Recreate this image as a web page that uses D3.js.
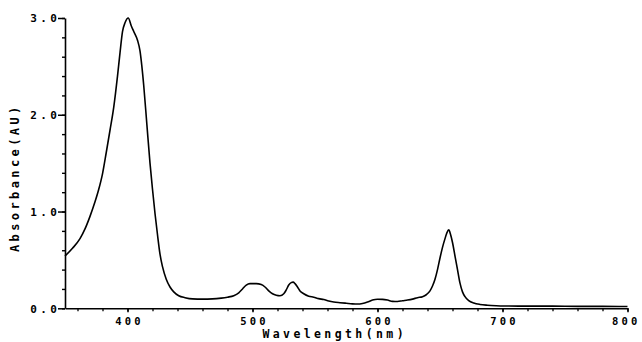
<!DOCTYPE html>
<html>
<head>
<meta charset="utf-8">
<script src="https://cdn.jsdelivr.net/npm/d3@7"></script>
<style>
  html, body { margin: 0; padding: 0; background: #fff; }
  svg { display: block; }
  text { font-family: "DejaVu Sans Mono", monospace; font-weight: bold; fill: #000; }
</style>
</head>
<body>
<svg id="chart" width="642" height="342"></svg>
<script>
// Data
const wavelength = [350, 356, 362, 366, 370, 374, 377, 380, 383, 386, 389, 392, 394, 396, 398, 400.6, 403, 405, 408, 410, 411.5, 413, 415.5, 418, 420, 422, 424, 426, 428, 431, 434, 437, 441, 446, 452, 460, 468, 475, 480, 485, 489, 492, 495, 498, 503, 507, 510, 513, 516, 519, 522, 525, 527, 529, 531, 532.5, 534, 536, 538, 541, 545, 549, 553, 557, 561, 565, 570, 575, 580, 584, 588, 592, 596, 600, 604, 608, 612, 616, 620, 624, 628, 632, 636, 639, 642, 644, 646, 648, 650, 652, 654, 655.5, 657, 658.5, 660, 662, 664, 666, 668, 670, 673, 677, 682, 688, 695, 705, 720, 740, 760, 780, 800];
const absorbance = [0.54, 0.62, 0.72, 0.82, 0.95, 1.10, 1.23, 1.39, 1.61, 1.84, 2.08, 2.40, 2.64, 2.86, 2.95, 3.00, 2.92, 2.86, 2.77, 2.66, 2.50, 2.30, 1.90, 1.50, 1.23, 0.98, 0.76, 0.56, 0.43, 0.30, 0.22, 0.17, 0.13, 0.11, 0.097, 0.095, 0.097, 0.105, 0.115, 0.13, 0.16, 0.20, 0.24, 0.255, 0.255, 0.245, 0.22, 0.18, 0.15, 0.135, 0.13, 0.15, 0.19, 0.24, 0.265, 0.27, 0.255, 0.22, 0.18, 0.15, 0.125, 0.115, 0.10, 0.09, 0.075, 0.065, 0.058, 0.052, 0.046, 0.044, 0.05, 0.065, 0.085, 0.093, 0.092, 0.085, 0.072, 0.07, 0.078, 0.085, 0.095, 0.11, 0.12, 0.14, 0.18, 0.23, 0.30, 0.40, 0.52, 0.63, 0.72, 0.78, 0.81, 0.76, 0.68, 0.54, 0.40, 0.26, 0.17, 0.12, 0.08, 0.055, 0.04, 0.032, 0.027, 0.024, 0.022, 0.022, 0.02, 0.02, 0.018];

const xMajorTicks = [400, 500, 600, 700, 800];
const xMinorTicks = d3.range(360, 801, 20);
const yMajorTicks = [0, 1, 2, 3];
const yMinorTicks = d3.range(0, 3.01, 0.2);
const yTickLabels = ["0.0", "1.0", "2.0", "3.0"];
const xLabel = "Wavelength(nm)";
const yLabel = "Absorbance(AU)";

const svg = d3.select("#chart");
const x = d3.scaleLinear().domain([350, 800]).range([65, 627.5]);
const y = d3.scaleLinear().domain([0, 3]).range([308.3, 18]);

const LS = 3.4; // letter spacing of the plotter font

// Y axis: minor ticks
svg.append("g")
  .attr("transform", `translate(${x(350)},0)`)
  .call(d3.axisLeft(y).tickValues(yMinorTicks).tickSize(3).tickFormat("").tickSizeOuter(0))
  .call(g => g.select(".domain").remove())
  .call(g => g.selectAll("line").attr("stroke", "#000").attr("stroke-width", 1.4));

// Y axis: major ticks with labels
svg.append("g")
  .attr("transform", `translate(${x(350)},0)`)
  .call(d3.axisLeft(y).tickValues(yMajorTicks).tickSize(7).tickSizeOuter(0)
        .tickFormat((d, i) => yTickLabels[i]))
  .call(g => g.select(".domain").attr("stroke", "#000").attr("stroke-width", 1.6))
  .call(g => g.selectAll("line").attr("stroke", "#000").attr("stroke-width", 1.5))
  .call(g => g.selectAll("text")
        .attr("font-size", 11).attr("letter-spacing", LS)
        .attr("x", -8 + LS).attr("dy", "0.36em")
        .style("font-family", '"DejaVu Sans Mono", monospace').style("font-weight", "bold"));

// X axis: minor ticks
svg.append("g")
  .attr("transform", `translate(0,${y(0)})`)
  .call(d3.axisBottom(x).tickValues(xMinorTicks).tickSize(3).tickFormat("").tickSizeOuter(0))
  .call(g => g.select(".domain").remove())
  .call(g => g.selectAll("line").attr("stroke", "#000").attr("stroke-width", 1.3));

// X axis: major ticks with labels
svg.append("g")
  .attr("transform", `translate(0,${y(0)})`)
  .call(d3.axisBottom(x).tickValues(xMajorTicks).tickSize(4).tickSizeOuter(0).tickFormat(d3.format("d")))
  .call(g => g.select(".domain").attr("stroke", "#000").attr("stroke-width", 1.6))
  .call(g => g.selectAll("line").attr("stroke", "#000").attr("stroke-width", 1.5))
  .call(g => g.selectAll("text")
        .attr("font-size", 10.5).attr("letter-spacing", 3.2)
        .attr("y", 17).attr("dy", 0).attr("dx", d => d === 800 ? -1.8 : 1.6)
        .style("font-family", '"DejaVu Sans Mono", monospace').style("font-weight", "bold"));

// Spectrum line
const line = d3.line()
  .x((d, i) => x(wavelength[i]))
  .y(d => y(d))
  .curve(d3.curveMonotoneX);

svg.append("path")
  .datum(absorbance)
  .attr("d", line)
  .attr("fill", "none")
  .attr("stroke", "#000")
  .attr("stroke-width", 1.6)
  .attr("stroke-linejoin", "round");

// Axis titles
svg.append("text")
  .attr("x", 333 + LS / 2).attr("y", 338)
  .attr("text-anchor", "middle")
  .attr("font-size", 11.5).attr("letter-spacing", LS)
  .text(xLabel);

svg.append("text")
  .attr("transform", `translate(19,${176 + LS / 2}) rotate(-90)`)
  .attr("text-anchor", "middle")
  .attr("font-size", 12).attr("letter-spacing", LS)
  .text(yLabel);
</script>
</body>
</html>
